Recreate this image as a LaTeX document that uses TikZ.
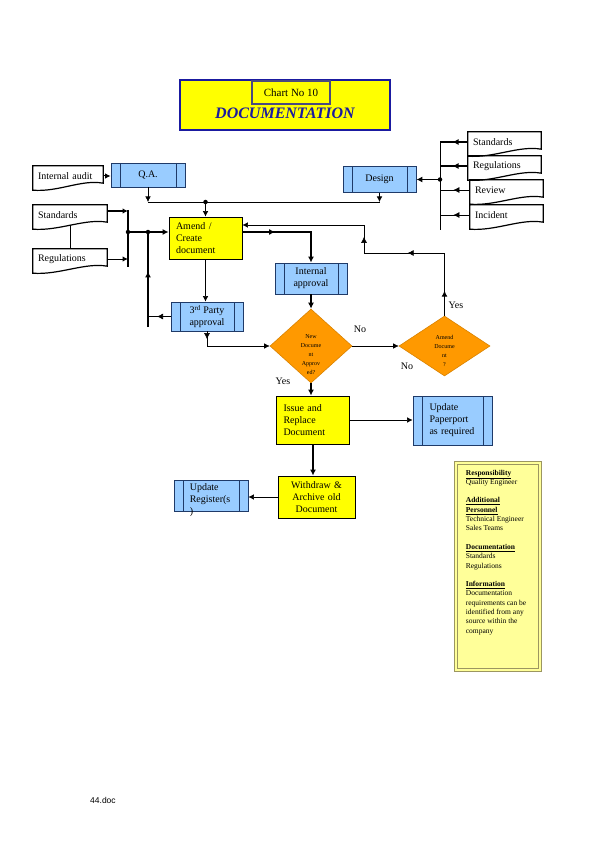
\documentclass[tikz,border=0pt]{standalone}
\usepackage{fontspec}
\setmainfont{Liberation Serif}
\newfontfamily\footfont{Liberation Sans}
\usetikzlibrary{arrows.meta,positioning,shapes.geometric,decorations.markings}

\definecolor{taskyellow}{HTML}{FFFF00}
\definecolor{procblue}{HTML}{99CCFF}
\definecolor{procedge}{HTML}{1F3A68}
\definecolor{decorange}{HTML}{FF9900}
\definecolor{decedge}{HTML}{D98200}
\definecolor{notefill}{HTML}{FFFF99}
\definecolor{noteedge}{HTML}{9C9660}
\definecolor{titleblue}{HTML}{1A1AA0}
\definecolor{chartedge}{HTML}{4A4A80}

\begin{document}
\begin{tikzpicture}[
  x=1pt, y=-1pt,
  font=\fontsize{10}{12}\selectfont,
  every node/.style={inner sep=0pt},
  plain/.style={line width=0.6pt},
  link/.style={plain, -{Latex[length=5.5pt,width=5.5pt]}},
  heavy/.style={line width=1.8pt},
  heavylink/.style={heavy, -{Latex[length=6pt,width=6pt]}},
  midtip/.style={postaction={decorate, decoration={markings,
    mark=at position #1 with {\arrow{Latex[length=6pt,width=6pt]}}}}},
  task/.style={draw, fill=taskyellow, line width=0.8pt, inner xsep=7pt, align=left},
  proc/.style={draw=procedge, fill=procblue, line width=0.8pt, align=center,
    path picture={\draw[procedge, line width=0.7pt]
      ([xshift=9pt]path picture bounding box.north west) -- ([xshift=9pt]path picture bounding box.south west)
      ([xshift=-9pt]path picture bounding box.north east) -- ([xshift=-9pt]path picture bounding box.south east);}},
  paper/.style={inner xsep=5pt, minimum height=20pt, align=left},
  paperedge/.style={draw, line width=1.2pt},
  decide/.style={diamond, draw=decedge, fill=decorange, line width=0.6pt},
  tiny/.style={font=\fontsize{6}{9}\selectfont, align=center},
  dot/.style={circle, fill, minimum size=4.5pt}
]
\useasboundingbox (0,0) rectangle (595,842);

% title
\node[draw=titleblue, fill=taskyellow, line width=1.5pt, minimum width=210pt, minimum height=50pt] (titlebox) at (285,105) {};
\node[draw=chartedge, line width=1.2pt, minimum width=78pt, minimum height=23pt, font=\fontsize{11}{13}\selectfont] (chartno) at (291,92.5) {Chart No 10};
\node[font=\fontsize{16}{18}\selectfont\bfseries\itshape, text=titleblue] (doctitle) at (285,113) {DOCUMENTATION};

% inputs
\node[paper, text width=60pt] (audit) at (68,176) {Internal audit};
\node[paper, text width=64pt] (stdl) at (70,215) {Standards};
\node[paper, text width=64pt] (regl) at (70,259) {Regulations};
\node[paper, text width=63pt] (stdr) at (504.5,142) {Standards};
\node[paper, text width=63pt] (regr) at (504.5,166) {Regulations};
\node[paper, text width=63pt] (review) at (506.5,190) {Review};
\node[paper, text width=63pt] (incident) at (506.5,215) {Incident};
\foreach \d in {audit,stdl,regl,stdr,regr,review,incident}
  \draw[paperedge] (\d.north west) -- (\d.north east) -- ([yshift=3pt]\d.south east)
    .. controls ([xshift=-22pt,yshift=7pt]\d.south east) and ([xshift=26pt,yshift=-6pt]\d.south west) .. ([yshift=-4pt]\d.south west) -- cycle;

% process
\node[proc, minimum width=74pt, minimum height=24pt] (qa) at (148,175) {Q.A.};
\node[proc, minimum width=73pt, minimum height=26pt] (design) at (379.5,179.5) {Design};
\node[task, text width=59pt, minimum height=42pt] (amend) at (205.5,238) {Amend /\\Create\\document};
\node[proc, minimum width=72pt, minimum height=31pt] (internal) at (311,278.5) {Internal\\approval};
\node[proc, minimum width=72pt, minimum height=29pt] (third) at (207,316.5) {3\textsuperscript{rd} Party\\approval};
\node[decide, minimum width=82pt, minimum height=74pt,
  label={[tiny, yshift=-9pt]center:New\\Docume\\nt\\Approv\\ed?}] (dia1) at (311,346) {};
\node[decide, minimum width=91pt, minimum height=60pt,
  label={[tiny, yshift=-5pt]center:Amend\\Docume\\nt\\?}] (dia2) at (444.5,346) {};
\node[task, text width=59pt, minimum height=48pt] (issue) at (313,420) {Issue and\\Replace\\Document};
\node[proc, text width=46pt, minimum width=79pt, minimum height=49pt, align=left] (paperport) at (452.5,420.5) {Update\\Paperport\\as required};
\node[task, text width=63pt, minimum height=42pt, align=center] (withdraw) at (316.5,497) {Withdraw \&\\Archive old\\Document};
\node[proc, minimum width=74pt, minimum height=31pt,
  label={[align=left, anchor=north west, xshift=16pt, yshift=-4pt]north west:Update\\Register(s\\)}] (register) at (211,495.5) {};

% labels
\node (no1) at (360,329) {No};
\node (yes1) at (283,381) {Yes};
\node (no2) at (407,366) {No};
\node (yes2) at (456,305) {Yes};

% junctions
\coordinate (bus) at (0,202);
\coordinate (lbartop) at (128,210);
\coordinate (lbarbot) at (128,267);
\coordinate (feedbot) at (148,327);
\coordinate (amendinL) at ([yshift=6pt]amend.west);
\coordinate (amendout) at ([yshift=6pt]amend.east);
\coordinate (amendinR) at ([yshift=13pt]amend.east);
\coordinate (backR) at (444.5,253);
\coordinate (backL) at (364,253);
\coordinate (rbartop) at (440,142);
\coordinate (rbarbot) at (440,230);

% connectors top
\draw[link, line width=1pt] (audit.east) -- (audit.east -| qa.west);
\draw[plain] (qa.south |- bus) -- (design.south |- bus);
\draw[link] (qa.south) -- (qa.south |- bus);
\draw[link] (design.south) -- (design.south |- bus);
\node[dot] (busdot) at (amend.north |- bus) {};
\draw[link] (busdot) -- (amend.north);

% left feed
\draw[plain] (stdl.south) -- (regl.north);
\draw[heavy] (lbartop) -- (lbarbot);
\draw[link, line width=1.2pt] ([yshift=4pt]stdl.east) -- ([yshift=4pt]stdl.east -| lbartop);
\draw[link, line width=1pt] (regl.east) -- (regl.east -| lbartop);
\node[dot] (ldotA) at (lbartop |- amendinL) {};
\node[dot] (ldotB) at (feedbot |- amendinL) {};
\draw[heavylink] (ldotA) -- (amendinL);
\draw[heavy, midtip=0.6] (feedbot) -- (ldotB);
\draw[plain, midtip=0.6] (third.west) -- (third.west -| feedbot);

% main flow
\draw[heavylink, midtip=0.33] (amendout) -| (internal.north);
\draw[link] (amend.south) -- (amend.south |- third.north);
\draw[link, midtip=0.1] (third.south) |- (dia1.west);
\draw[heavylink] (internal.south) -- (dia1.north);
\draw[link] (dia1.east) -- (dia2.west);
\draw[heavy, midtip=0.4] (dia2.north) -- (backR);
\draw[link, midtip=0.16, midtip=0.42] (backR) -- (backL) |- (amendinR);
\draw[heavylink] (dia1.south) -- (dia1.south |- issue.north);
\draw[link] (issue.east) -- (issue.east -| paperport.west);
\draw[heavylink] (issue.south) -- (issue.south |- withdraw.north);
\draw[link] (withdraw.west) -- (withdraw.west -| register.east);

% right feed
\draw[plain] (rbartop) -- (rbarbot);
\foreach \d/\w in {stdr/1.8pt, regr/1.8pt, review/0.6pt, incident/0.6pt}
  \draw[line width=\w, midtip=0.55] (\d.west) -- (\d.west -| rbartop);
\node[dot] (rdot) at (rbartop |- design.east) {};
\draw[heavylink] (rdot) -- (design.east);

% notes
\node[draw=noteedge, double=notefill, double distance=2.5pt, line width=0.7pt, fill=notefill,
  minimum width=84pt, minimum height=207pt] (note) at (498,566.5) {};
\node[anchor=north west, align=left, font=\fontsize{7.5}{9.3}\selectfont] (notetext) at ([xshift=10pt,yshift=-7pt]note.north west)
  {\underline{\textbf{Responsibility}}\\Quality Engineer\\[9.3pt]
   \underline{\textbf{Additional}}\\\underline{\textbf{Personnel}}\\Technical Engineer\\Sales Teams\\[9.3pt]
   \underline{\textbf{Documentation}}\\Standards\\Regulations\\[9.3pt]
   \underline{\textbf{Information}}\\Documentation\\requirements can be\\identified from any\\source within the\\company};

\node[anchor=west, font=\footfont\fontsize{8.5}{10}\selectfont] (footer) at (90,800) {44.doc};
\end{tikzpicture}
\end{document}
